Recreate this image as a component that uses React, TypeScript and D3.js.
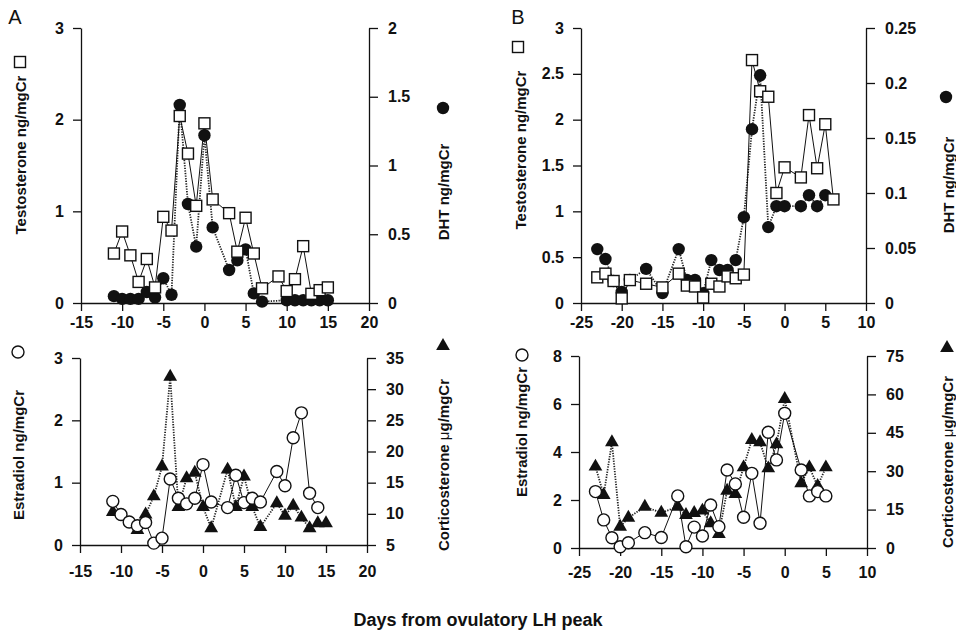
import React, { useRef, useEffect } from "react";
import * as d3 from "d3";

// ---- panel A, top: testosterone (squares) and DHT (filled circles)
const testoDaysA = [-11, -10, -9, -8, -7, -6, -5, -4, -3, -2, -1, 0, 1, 3, 4, 5, 6, 7, 9, 10, 11, 12, 13, 14, 15];
const testoA = [0.54, 0.78, 0.52, 0.23, 0.48, 0.17, 0.94, 0.79, 2.04, 1.63, 1.06, 1.96, 1.13, 0.98, 0.56, 0.93, 0.54, 0.16, 0.29, 0.13, 0.26, 0.62, 0.1, 0.14, 0.17];
const dhtDaysA = [-11, -10, -9, -8, -7, -6, -5, -4, -3, -2, -1, 0, 1, 3, 4, 5, 6, 7, 10, 11, 12, 13, 14, 15];
const dhtA = [0.05, 0.03, 0.03, 0.03, 0.08, 0.04, 0.18, 0.06, 1.44, 0.72, 0.41, 1.22, 0.55, 0.24, 0.31, 0.39, 0.07, 0.01, 0.02, 0.02, 0.02, 0.02, 0.02, 0.02];

// ---- panel A, bottom: estradiol (open circles) and corticosterone (triangles)
const estrDaysA = [-11, -10, -9, -8, -7, -6, -5, -4, -3, -2, -1, 0, 1, 3, 4, 5, 6, 7, 9, 10, 11, 12, 13, 14];
const estrA = [0.7, 0.49, 0.37, 0.31, 0.36, 0.03, 0.11, 1.06, 0.75, 0.66, 0.75, 1.29, 0.69, 0.6, 1.12, 0.68, 0.75, 0.69, 1.18, 0.95, 1.72, 2.12, 0.83, 0.6];
const cortDaysA = [-11, -8, -7, -6, -5, -4, -3, -2, -1, 0, 1, 3, 4, 5, 6, 7, 9, 10, 11, 12, 13, 14, 15];
const cortA = [10.3, 7.4, 9.9, 12.8, 17.6, 32.0, 11.1, 15.7, 16.6, 11.1, 7.7, 17.1, 11.1, 16.0, 11.1, 7.9, 11.7, 9.7, 11.3, 9.4, 7.7, 8.5, 8.5];

// ---- panel B, top
const testoDaysB = [-23, -22, -21, -20, -19, -17, -15, -13, -12, -11, -10, -9, -8, -7, -6, -5, -4, -3, -2, -1, 0, 2, 3, 4, 5, 6];
const testoB = [0.28, 0.32, 0.24, 0.05, 0.25, 0.21, 0.17, 0.32, 0.19, 0.18, 0.06, 0.21, 0.18, 0.29, 0.27, 0.31, 2.65, 2.31, 2.25, 1.2, 1.48, 1.37, 2.05, 1.47, 1.95, 1.13];
const dhtDaysB = [-23, -22, -21, -20, -19, -17, -15, -13, -12, -11, -10, -9, -8, -7, -6, -5, -4, -3, -2, -1, 0, 2, 3, 4, 5];
const dhtB = [0.049, 0.04, 0.02, 0.01, 0.021, 0.031, 0.009, 0.049, 0.021, 0.021, 0.009, 0.039, 0.03, 0.03, 0.039, 0.078, 0.158, 0.207, 0.069, 0.088, 0.088, 0.088, 0.098, 0.088, 0.098];

// ---- panel B, bottom (same days for both series)
const daysBottomB = [-23, -22, -21, -20, -19, -17, -15, -13, -12, -11, -10, -9, -8, -7, -6, -5, -4, -3, -2, -1, 0, 2, 3, 4, 5];
const estrB = [2.35, 1.17, 0.43, 0.05, 0.22, 0.64, 0.44, 2.17, 0.05, 0.87, 0.5, 1.79, 0.89, 3.25, 2.67, 1.28, 3.11, 1.03, 4.82, 3.67, 5.61, 3.25, 2.17, 2.35, 2.17];
const cortB = [31.8, 20.7, 41.3, 8.3, 11.8, 16.1, 13.8, 16.1, 12.9, 13.7, 14.6, 9.7, 5.5, 22.4, 21.1, 31.5, 42.2, 41.3, 31.1, 40.5, 58.2, 25.3, 31.5, 24.2, 31.5];

// ---- axis ticks
const xTicksA = [-15, -10, -5, 0, 5, 10, 15, 20];
const xTicksB = [-25, -20, -15, -10, -5, 0, 5, 10];
const testoTicksA = [0, 1, 2, 3];
const dhtTicksA = [0, 0.5, 1, 1.5, 2];
const estrTicksA = [0, 1, 2, 3];
const cortTicksA = [5, 10, 15, 20, 25, 30, 35];
const testoTicksB = [0, 0.5, 1, 1.5, 2, 2.5, 3];
const dhtTicksB = [0, 0.05, 0.1, 0.15, 0.2, 0.25];
const estrTicksB = [0, 2, 4, 6, 8];
const cortTicksB = [0, 15, 30, 45, 60, 75];

const FONT = "'Liberation Sans', Arial, Helvetica, sans-serif";

function marker(g, type, cx, cy) {
  if (type === "square") {
    g.append("rect").attr("x", cx - 5.5).attr("y", cy - 5.5).attr("width", 11).attr("height", 11)
      .attr("fill", "#fff").attr("stroke", "#111").attr("stroke-width", 1.4);
  } else if (type === "dot") {
    g.append("circle").attr("cx", cx).attr("cy", cy).attr("r", 6.2).attr("fill", "#111");
  } else if (type === "ring") {
    g.append("circle").attr("cx", cx).attr("cy", cy).attr("r", 6)
      .attr("fill", "#fff").attr("stroke", "#111").attr("stroke-width", 1.4);
  } else {
    g.append("path").attr("d", d3.symbol().type(d3.symbolTriangle).size(82)())
      .attr("transform", `translate(${cx},${cy})`).attr("fill", "#111");
  }
}

function styleAxis(sel) {
  sel.attr("font-size", 16).attr("font-family", FONT).attr("font-weight", "bold");
  sel.selectAll("path, line").attr("stroke", "#111").attr("stroke-width", 1.3);
  sel.selectAll("text").attr("fill", "#111");
}

function drawPanel(svg, p) {
  const g = svg.append("g");
  const x = d3.scaleLinear().domain(p.xDomain).range([p.left, p.right]);
  const yL = d3.scaleLinear().domain(p.leftDomain).range([p.bottom, p.top]);
  const yR = d3.scaleLinear().domain(p.rightDomain).range([p.bottom, p.top]);
  const fmt = (d) => String(d);

  g.append("g").attr("transform", `translate(0,${p.bottom})`)
    .call(d3.axisBottom(x).tickValues(p.xTicks).tickFormat(fmt).tickSize(8).tickSizeOuter(0).tickPadding(p.xPad))
    .call(styleAxis);
  g.append("g").attr("transform", `translate(${p.left},0)`)
    .call(d3.axisLeft(yL).tickValues(p.leftTicks).tickFormat(fmt).tickSize(8).tickSizeOuter(0).tickPadding(9))
    .call(styleAxis);
  g.append("g").attr("transform", `translate(${p.right},0)`)
    .call(d3.axisRight(yR).tickValues(p.rightTicks).tickFormat(fmt).tickSize(9).tickSizeOuter(0).tickPadding(10))
    .call(styleAxis);

  // dotted series on the right axis, drawn first
  const dotted = p.dottedDays.map((d, i) => [x(d), yR(p.dottedVals[i])]);
  g.append("path").attr("d", d3.line()(dotted)).attr("fill", "none")
    .attr("stroke", "#222").attr("stroke-width", 1.8).attr("stroke-dasharray", "1.3,1.3");
  const solid = p.solidDays.map((d, i) => [x(d), yL(p.solidVals[i])]);
  g.append("path").attr("d", d3.line()(solid)).attr("fill", "none")
    .attr("stroke", "#111").attr("stroke-width", 1);

  dotted.forEach(([cx, cy]) => marker(g, p.dottedMarker, cx, cy));
  solid.forEach(([cx, cy]) => marker(g, p.solidMarker, cx, cy));
}

function title(svg, text, cx, cy, mk, mx, my) {
  const t = svg.append("text").attr("transform", `translate(${cx},${cy}) rotate(-90)`)
    .attr("text-anchor", "middle").attr("dominant-baseline", "central")
    .attr("font-family", FONT).attr("font-weight", "bold").attr("font-size", 15).attr("fill", "#111");
  const parts = text.split("μ");
  t.append("tspan").text(parts[0]);
  if (parts.length > 1) {
    t.append("tspan").attr("font-weight", "normal").text("μ");
    t.append("tspan").text(parts[1]);
  }
  marker(svg, mk, mx, my);
}

export default function App() {
  const svgRef = useRef(null);

  useEffect(() => {
    const svg = d3.select(svgRef.current);
    svg.selectAll("*").remove();

    drawPanel(svg, {
      left: 81, right: 369, top: 28, bottom: 303, xPad: 6,
      xDomain: [-15, 20], xTicks: xTicksA,
      leftDomain: [0, 3], leftTicks: testoTicksA,
      rightDomain: [0, 2], rightTicks: dhtTicksA,
      solidDays: testoDaysA, solidVals: testoA, solidMarker: "square",
      dottedDays: dhtDaysA, dottedVals: dhtA, dottedMarker: "dot",
    });
    drawPanel(svg, {
      left: 80, right: 367, top: 358, bottom: 545, xPad: 13,
      xDomain: [-15, 20], xTicks: xTicksA,
      leftDomain: [0, 3], leftTicks: estrTicksA,
      rightDomain: [5, 35], rightTicks: cortTicksA,
      solidDays: estrDaysA, solidVals: estrA, solidMarker: "ring",
      dottedDays: cortDaysA, dottedVals: cortA, dottedMarker: "tri",
    });
    drawPanel(svg, {
      left: 581, right: 866, top: 28, bottom: 303, xPad: 6,
      xDomain: [-25, 10], xTicks: xTicksB,
      leftDomain: [0, 3], leftTicks: testoTicksB,
      rightDomain: [0, 0.25], rightTicks: dhtTicksB,
      solidDays: testoDaysB, solidVals: testoB, solidMarker: "square",
      dottedDays: dhtDaysB, dottedVals: dhtB, dottedMarker: "dot",
    });
    drawPanel(svg, {
      left: 579, right: 867, top: 356, bottom: 548, xPad: 11,
      xDomain: [-25, 10], xTicks: xTicksB,
      leftDomain: [0, 8], leftTicks: estrTicksB,
      rightDomain: [0, 75], rightTicks: cortTicksB,
      solidDays: daysBottomB, solidVals: estrB, solidMarker: "ring",
      dottedDays: daysBottomB, dottedVals: cortB, dottedMarker: "tri",
    });

    title(svg, "Testosterone ng/mgCr", 20, 155, "square", 20, 62);
    title(svg, "DHT ng/mgCr", 443, 192, "dot", 443, 108);
    title(svg, "Estradiol ng/mgCr", 18, 455, "ring", 18, 352);
    title(svg, "Corticosterone μg/mgCr", 443, 465, "tri", 443, 346);
    title(svg, "Testosterone ng/mgCr", 520, 150, "square", 518, 47);
    title(svg, "DHT ng/mgCr", 948, 185, "dot", 946, 97);
    title(svg, "Estradiol ng/mgCr", 521, 432, "ring", 522, 355);
    title(svg, "Corticosterone μg/mgCr", 947, 462, "tri", 947, 348);

    svg.append("text").attr("x", 15).attr("y", 17).attr("text-anchor", "middle").attr("dominant-baseline", "central")
      .attr("font-family", FONT).attr("font-size", 20).attr("fill", "#111").text("A");
    svg.append("text").attr("x", 518).attr("y", 17).attr("text-anchor", "middle").attr("dominant-baseline", "central")
      .attr("font-family", FONT).attr("font-size", 20).attr("fill", "#111").text("B");
    svg.append("text").attr("x", 478).attr("y", 620).attr("text-anchor", "middle").attr("dominant-baseline", "central")
      .attr("font-family", FONT).attr("font-weight", "bold").attr("font-size", 18).attr("fill", "#111")
      .text("Days from ovulatory LH peak");
  }, []);

  return (
    <svg ref={svgRef} width={956} height={635}
      style={{ position: "absolute", left: 0, top: 0, background: "#fff" }} />
  );
}
